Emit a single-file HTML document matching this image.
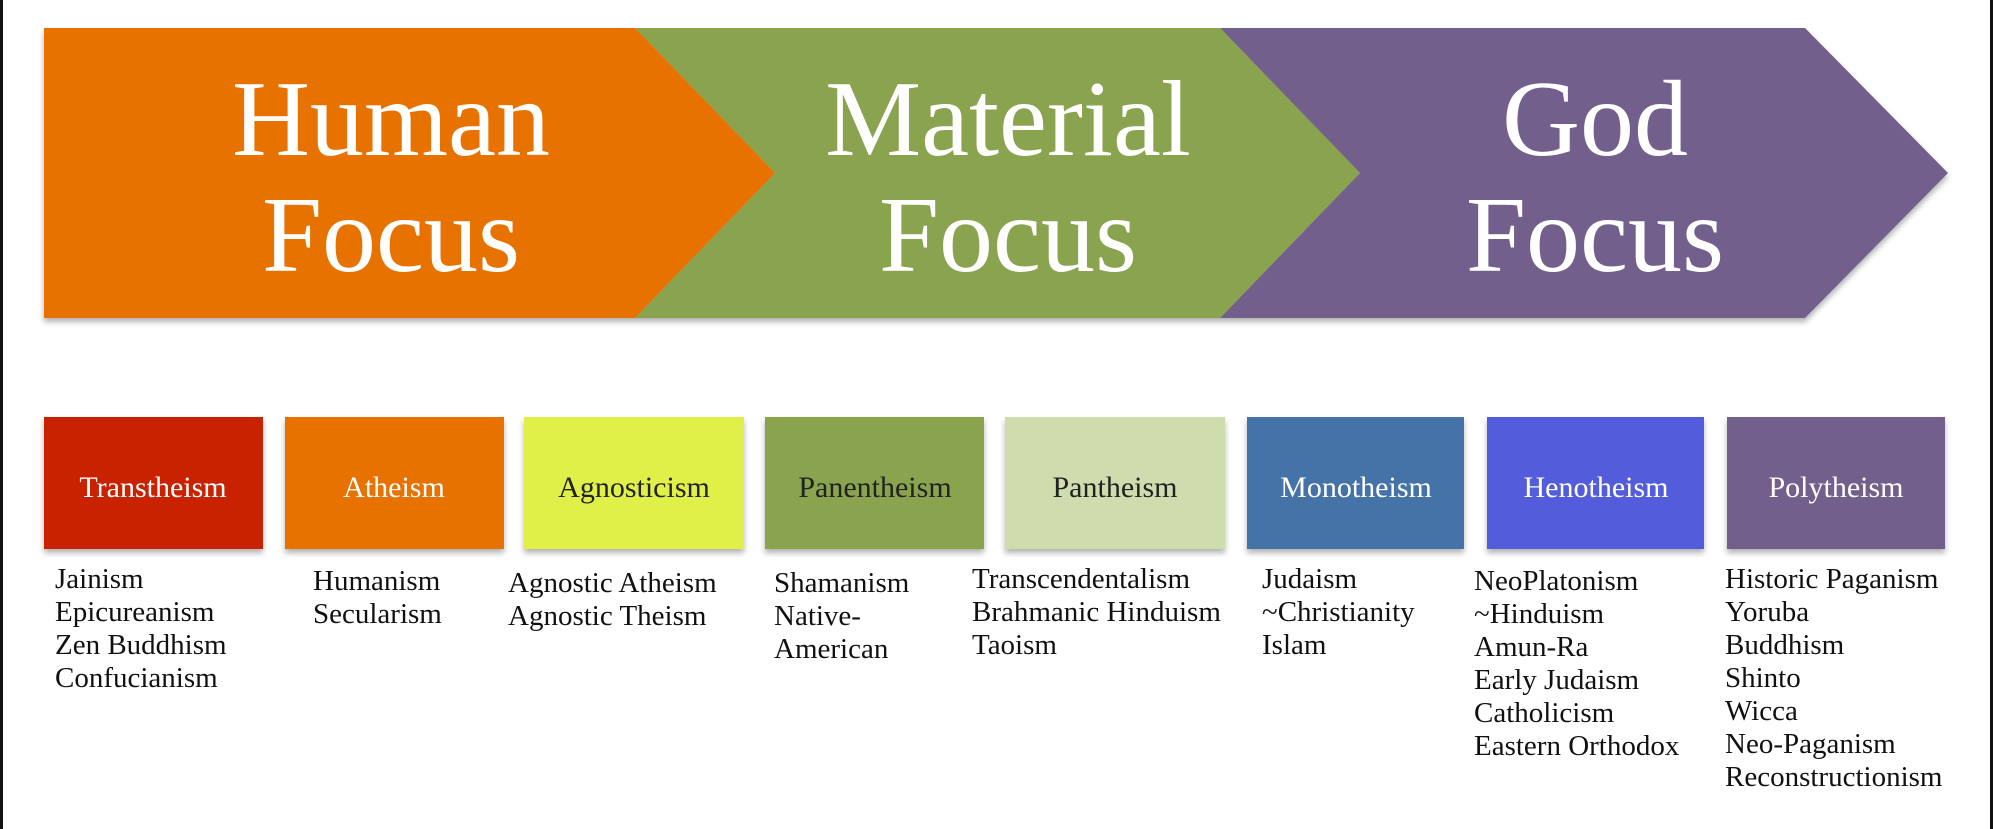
<!DOCTYPE html>
<html><head><meta charset="utf-8"><style>
html,body{margin:0;padding:0;background:#fff;}
body{width:1993px;height:829px;overflow:hidden;position:relative;}
svg{position:absolute;left:0;top:0;}
</style></head><body>
<svg width="1993" height="829" viewBox="0 0 1993 829" xmlns="http://www.w3.org/2000/svg">
<defs>
<filter id="sh" x="-5%" y="-5%" width="110%" height="115%"><feDropShadow dx="0" dy="4" stdDeviation="3" flood-color="#000" flood-opacity="0.3"/></filter>
</defs>
<rect x="0" y="0" width="3" height="829" fill="#111"/>
<rect x="1990" y="0" width="3" height="829" fill="#111"/>
<g filter="url(#sh)">
<polygon points="1220,28 1805,28 1948,173 1805,318 1220,318 1360,173" fill="#735E8C"/>
<polygon points="635,28 1220,28 1360,173 1220,318 635,318 775,173" fill="#8AA350"/>
<polygon points="44,28 635,28 775,173 635,318 44,318" fill="#E87200"/>
</g>
<g font-family="Liberation Serif, serif" font-size="108" fill="#fff" text-anchor="middle">
<text x="391" y="155">Human</text><text x="391" y="271">Focus</text>
<text x="1008" y="155">Material</text><text x="1008" y="271">Focus</text>
<text x="1595" y="155">God</text><text x="1595" y="271">Focus</text>
</g>
<g filter="url(#sh)">
<rect x="44" y="417" width="219" height="132" fill="#C82000"/>
<rect x="285" y="417" width="219" height="132" fill="#E87200"/>
<rect x="524" y="417" width="220" height="132" fill="#E0F04A"/>
<rect x="765" y="417" width="219" height="132" fill="#8AA350"/>
<rect x="1005" y="417" width="220" height="132" fill="#CFDCAD"/>
<rect x="1247" y="417" width="217" height="132" fill="#4573A7"/>
<rect x="1487" y="417" width="217" height="132" fill="#535CDA"/>
<rect x="1727" y="417" width="218" height="132" fill="#735E8C"/>
</g>
<g font-family="Liberation Serif, serif" font-size="30" text-anchor="middle">
<text x="153" y="497" fill="#fff">Transtheism</text>
<text x="394" y="497" fill="#fff">Atheism</text>
<text x="634" y="497" fill="#222">Agnosticism</text>
<text x="875" y="497" fill="#222">Panentheism</text>
<text x="1115" y="497" fill="#222">Pantheism</text>
<text x="1356" y="497" fill="#fff">Monotheism</text>
<text x="1596" y="497" fill="#fff">Henotheism</text>
<text x="1836" y="497" fill="#fff">Polytheism</text>
</g>
<g font-family="Liberation Serif, serif" font-size="29" fill="#111">
<text x="55" y="588">Jainism</text><text x="55" y="621">Epicureanism</text><text x="55" y="654">Zen Buddhism</text><text x="55" y="687">Confucianism</text>
<text x="313" y="590">Humanism</text><text x="313" y="623">Secularism</text>
<text x="508" y="592">Agnostic Atheism</text><text x="508" y="625">Agnostic Theism</text>
<text x="774" y="592">Shamanism</text><text x="774" y="625">Native-</text><text x="774" y="658">American</text>
<text x="972" y="588">Transcendentalism</text><text x="972" y="621">Brahmanic Hinduism</text><text x="972" y="654">Taoism</text>
<text x="1262" y="588">Judaism</text><text x="1262" y="621">~Christianity</text><text x="1262" y="654">Islam</text>
<text x="1474" y="590">NeoPlatonism</text><text x="1474" y="623">~Hinduism</text><text x="1474" y="656">Amun-Ra</text><text x="1474" y="689">Early Judaism</text><text x="1474" y="722">Catholicism</text><text x="1474" y="755">Eastern Orthodox</text>
<text x="1725" y="588">Historic Paganism</text><text x="1725" y="621">Yoruba</text><text x="1725" y="654">Buddhism</text><text x="1725" y="687">Shinto</text><text x="1725" y="720">Wicca</text><text x="1725" y="753">Neo-Paganism</text><text x="1725" y="786">Reconstructionism</text>
</g>
</svg>
</body></html>
